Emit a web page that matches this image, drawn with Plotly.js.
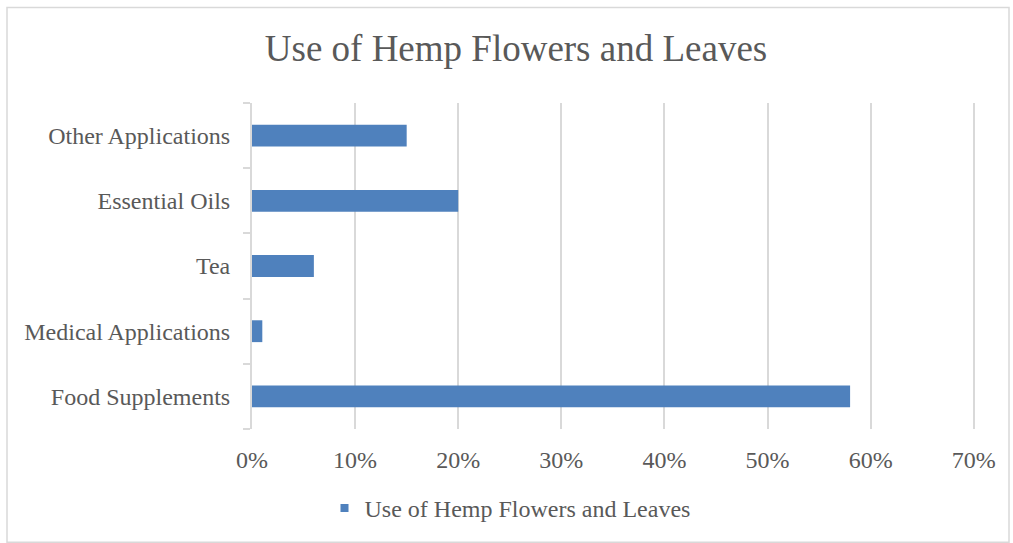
<!DOCTYPE html>
<html>
<head>
<meta charset="utf-8">
<script src="https://cdn.plot.ly/plotly-3.0.1.min.js"></script>
<style>html,body{margin:0;padding:0;background:#fff;}#chart{width:1013px;height:543px;}</style>
</head>
<body>
<div id="chart"></div>
<script>
const categories = ["Food Supplements", "Medical Applications", "Tea", "Essential Oils", "Other Applications"];
const values = [0.58, 0.01, 0.06, 0.20, 0.15];
const seriesName = "Use of Hemp Flowers and Leaves";
const xTicks = [0, 0.1, 0.2, 0.3, 0.4, 0.5, 0.6, 0.7];
const xTickLabels = ["0%", "10%", "20%", "30%", "40%", "50%", "60%", "70%"];

const W = 1013, H = 543, L = 252, R = 34, T = 103, B = 112;
const pw = W - L - R, ph = H - T - B;
const font = "Liberation Serif, Times New Roman, serif";
const barColor = "#4f81bd";

const trace = {
  type: "bar", orientation: "h", y: categories, x: values, name: seriesName,
  marker: {color: barColor, line: {width: 0}}, showlegend: false, hoverinfo: "x+y"
};
const legendTrace = {
  type: "scatter", mode: "markers", x: [null], y: [null], name: seriesName,
  marker: {symbol: "square", size: 8, color: barColor}, showlegend: true, hoverinfo: "skip"
};

const layout = {
  width: W, height: H,
  margin: {l: L, r: R, t: T, b: B, pad: 0},
  paper_bgcolor: "#ffffff", plot_bgcolor: "#ffffff",
  font: {family: font, color: "#595959", size: 24},
  title: {text: "Use of Hemp Flowers and Leaves", font: {family: font, size: 37, color: "#595959"},
          x: 516 / W, xanchor: "center", xref: "container", y: 1 - 48 / H, yanchor: "middle", yref: "container"},
  bargap: 0.665,
  xaxis: {range: [0, 0.705], tickvals: xTicks, ticktext: xTickLabels, showgrid: true,
          gridcolor: "#d9d9d9", gridwidth: 2, zeroline: false, showline: false, ticks: "",
          ticklabelstandoff: 14,
          tickfont: {family: font, size: 24, color: "#595959"}, fixedrange: true},
  yaxis: {type: "category", categoryorder: "array", categoryarray: categories,
          showline: true, linecolor: "#d9d9d9", linewidth: 2, ticks: "outside", tickson: "boundaries",
          ticklen: 7, tickcolor: "#d9d9d9", tickwidth: 2, showgrid: false, zeroline: false,
          ticklabelstandoff: 15,
          tickfont: {family: font, size: 24, color: "#595959"}, fixedrange: true},
  legend: {orientation: "h", x: (510 - L) / pw, xanchor: "center",
           y: -80 / ph, yanchor: "middle", font: {family: font, size: 24, color: "#595959"},
           itemwidth: 30, bgcolor: "rgba(0,0,0,0)"},
  shapes: [{type: "rect", xref: "paper", yref: "paper",
            x0: (7 - L) / pw, x1: (1009 - L) / pw, y0: (H - B - 545) / ph, y1: (H - B - 7) / ph,
            line: {color: "#d9d9d9", width: 1.5}, fillcolor: "rgba(0,0,0,0)", layer: "below"}]
};

Plotly.newPlot("chart", [trace, legendTrace], layout, {displayModeBar: false, staticPlot: true});
</script>
</body>
</html>
